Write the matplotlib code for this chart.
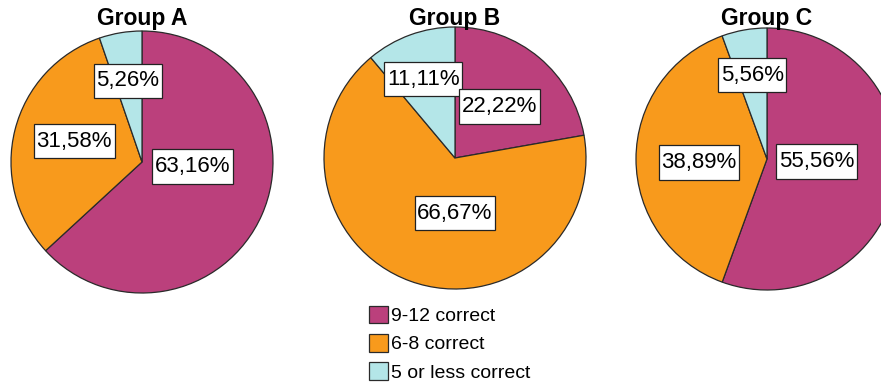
import matplotlib
matplotlib.use("Agg")
import matplotlib.pyplot as plt
from matplotlib.path import Path
import numpy as np

plt.rcParams['font.family'] = ['Liberation Sans', 'DejaVu Sans']

groups = ["Group A", "Group B", "Group C"]
categories = ["9-12 correct", "6-8 correct", "5 or less correct"]
values_a = [63.16, 31.58, 5.26]
values_b = [22.22, 66.67, 11.11]
values_c = [55.56, 38.89, 5.56]
labels_a = ["63,16%", "31,58%", "5,26%"]
labels_b = ["22,22%", "66,67%", "11,11%"]
labels_c = ["55,56%", "38,89%", "5,56%"]

colors = ["#BB407C", "#F89A1C", "#B4E6E8"]

# layout (pixels, y measured from top) and label placement (radius fraction, angle deg)
W, H = 881, 387
centers = [(142, 162), (455, 158), (767, 159)]
radius = 131
label_pos = [
    [(0.39, -5), (0.54, 163), (0.63, 100)],
    [(0.52, 49), (0.42, -90), (0.65, 112)],
    [(0.38, -3), (0.52, 183), (0.65, 100)],
]
title_y = 19


def label_box(x0, y0, width, height, mutation_size):
    px = 0.12 * mutation_size
    py = 0.30 * mutation_size
    x0, y0 = x0 - px, y0 - py
    x1, y1 = x0 + width + 2 * px, y0 + height + 2 * py
    return Path([(x0, y0), (x1, y0), (x1, y1), (x0, y1), (x0, y0)], closed=True)


fig = plt.figure(figsize=(W / 100, H / 100), dpi=100)
ax = fig.add_axes([0, 0, 1, 1])

all_values = [values_a, values_b, values_c]
all_labels = [labels_a, labels_b, labels_c]
handles = None
for gi, (vals, labs) in enumerate(zip(all_values, all_labels)):
    cx, cy = centers[gi]
    cy_up = H - cy
    wedges, _ = ax.pie(vals, colors=colors, startangle=90, counterclock=False,
                       center=(cx, cy_up), radius=radius,
                       wedgeprops=dict(edgecolor="#2a2a2a", linewidth=0.9))
    if handles is None:
        handles = wedges
    for li in reversed(range(len(labs))):
        rf, ang = label_pos[gi][li]
        x = cx + rf * radius * np.cos(np.radians(ang))
        y = cy_up + rf * radius * np.sin(np.radians(ang))
        ax.text(x, y, labs[li], ha="center", va="center", fontsize=16, color="black",
                zorder=5,
                bbox=dict(boxstyle=label_box, facecolor="white",
                          edgecolor="#222222", linewidth=0.9))
    ax.text(cx, H - title_y, groups[gi], ha="center", va="center", fontsize=16.5,
            fontweight="bold", color="black")

ax.set_xlim(0, W)
ax.set_ylim(0, H)
ax.set_aspect("equal")
ax.axis("off")

leg = ax.legend(handles, categories, loc="upper left",
                bbox_to_anchor=(369, H - 306), bbox_transform=ax.transData,
                frameon=False, fontsize=14, handlelength=1.0, handleheight=1.0,
                handletextpad=0.15, labelspacing=0.45, borderpad=0, borderaxespad=0)

fig.savefig("out.png", dpi=100)
